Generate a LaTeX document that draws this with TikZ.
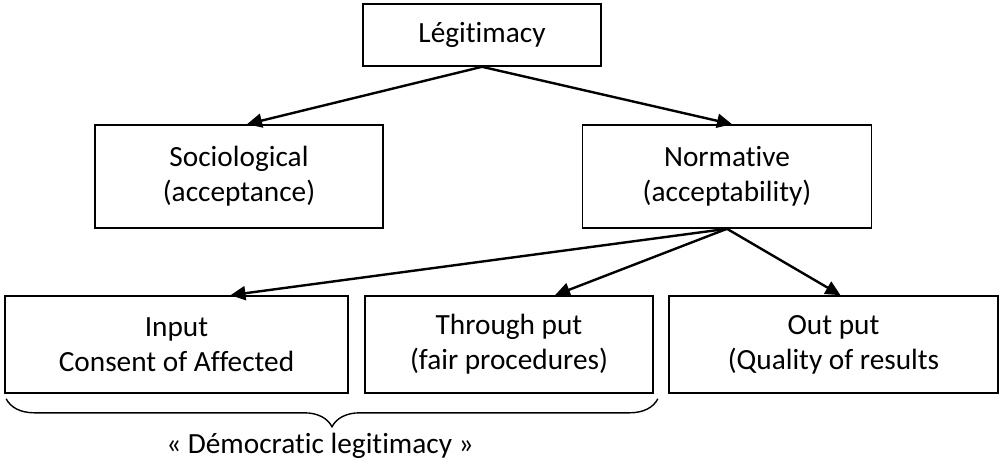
\documentclass[tikz,border=0pt]{standalone}
\usepackage{fontspec}
\setmainfont{Carlito}[Ligatures=NoCommon]
\usepackage{tikz}
\usetikzlibrary{arrows.meta,positioning,decorations.pathreplacing,calc}

\begin{document}
\begin{tikzpicture}[x=1pt,y=-1pt,
    boite/.style={draw,line width=1.6pt,align=center,inner sep=0pt,font=\fontsize{29.3}{35}\selectfont},
    fleche/.style={line width=2.4pt,-{Triangle[length=15pt,width=14pt]}}]
        \useasboundingbox (0,0) rectangle (1002,465);
        \node[boite,minimum width=238pt,minimum height=62pt] (legit) at (482,35) {Légitimacy};
        \node[boite,minimum width=288pt,minimum height=103pt] (socio) at (239,176.5) {Sociological\\ (acceptance)};
        \node[boite,minimum width=289pt,minimum height=103pt] (norm) at (727,176.5) {Normative\\ (acceptability)};
        \node[boite,minimum width=343pt,minimum height=97pt] (input) at (176.5,344.5) {Input\\ Consent of Affected};
        \node[boite,minimum width=288pt,minimum height=97pt] (through) at (509,344.5) {Through put\\ (fair procedures)};
        \node[boite,minimum width=329pt,minimum height=97pt] (output) at (833.5,344.5) {Out put\\ (Quality of results};
        \draw[fleche] (legit.south) -- ([xshift=8pt]socio.north);
        \draw[fleche] (legit.south) -- ([xshift=5pt]norm.north);
        \draw[fleche] (norm.south) -- ([xshift=54pt]input.north);
        \draw[fleche] (norm.south) -- ([xshift=46pt]through.north);
        \draw[fleche] (norm.south) -- ([xshift=7pt]output.north);
        % accolade sous input et through put
        \draw[line width=1.4pt,decorate,decoration={brace,mirror,amplitude=28pt}]
            ([xshift=2pt,yshift=-5pt]input.south west) -- ([xshift=4pt,yshift=-5pt]through.south east);
        \node[font=\fontsize{29.3}{35}\selectfont] (demo) at (320,446) {« Démocratic legitimacy »};
\end{tikzpicture}
\end{document}
